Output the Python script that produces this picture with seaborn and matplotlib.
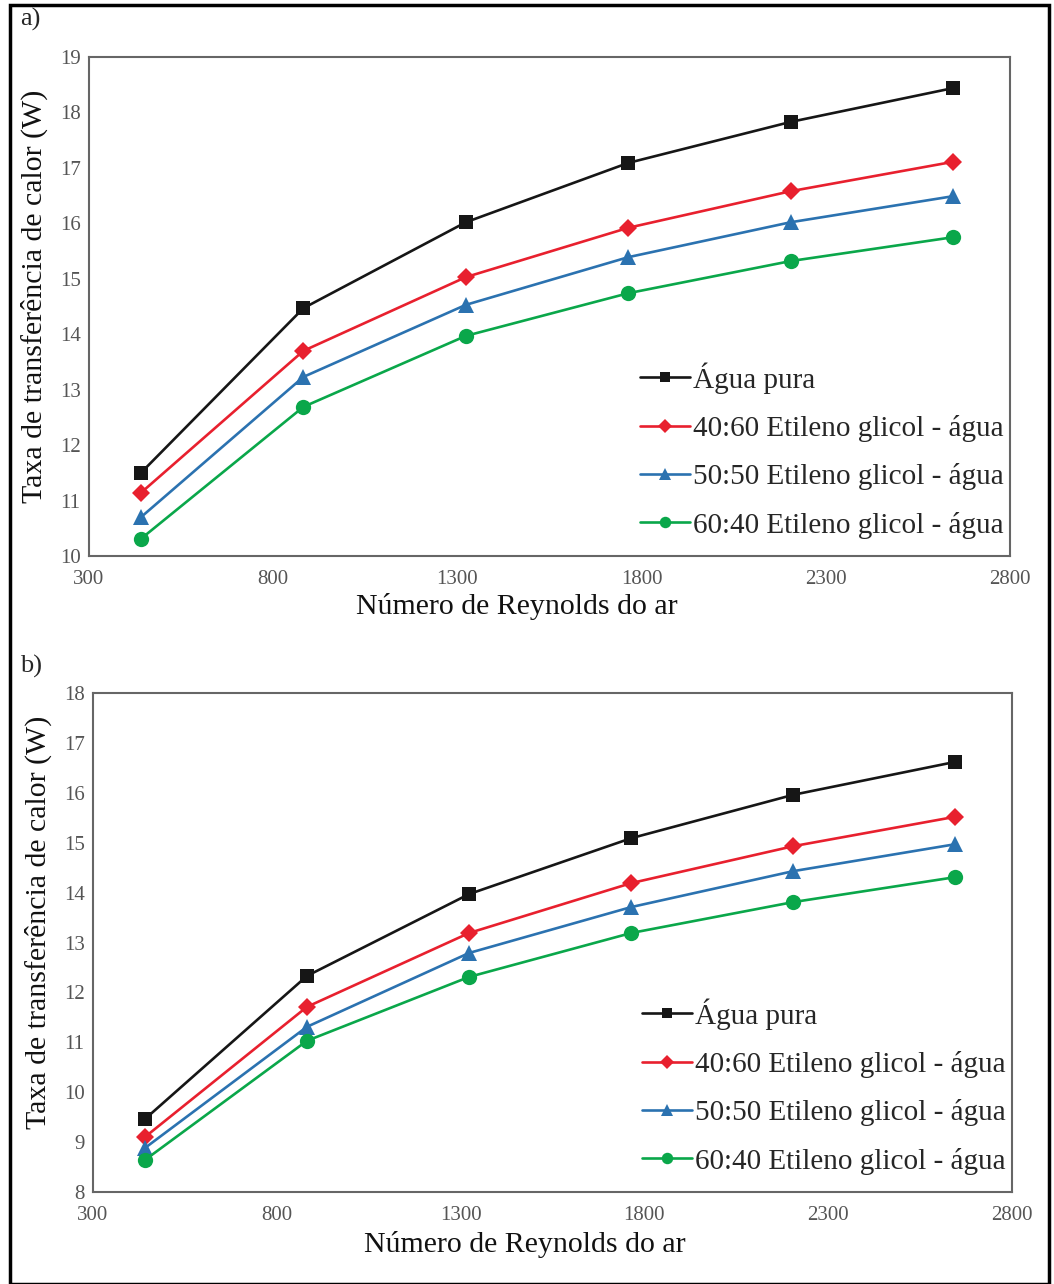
import pandas as pd
import matplotlib.pyplot as plt
import matplotlib.patches as patches
import seaborn as sns

# Reynolds numbers (air side)
reynolds = [441, 882, 1323, 1764, 2205, 2646]

series_names = ['Água pura',
                '40:60 Etileno glicol - água',
                '50:50 Etileno glicol - água',
                '60:40 Etileno glicol - água']

# panel a) heat transfer rate (W)
a_agua = [11.50, 14.47, 16.02, 17.09, 17.83, 18.44]
a_4060 = [11.14, 13.70, 15.03, 15.92, 16.58, 17.11]
a_5050 = [10.70, 13.23, 14.53, 15.39, 16.02, 16.49]
a_6040 = [10.31, 12.69, 13.97, 14.74, 15.32, 15.75]

# panel b) heat transfer rate (W)
b_agua = [9.46, 12.33, 13.97, 15.09, 15.96, 16.62]
b_4060 = [9.10, 11.71, 13.19, 14.19, 14.93, 15.52]
b_5050 = [8.88, 11.31, 12.79, 13.71, 14.43, 14.97]
b_6040 = [8.64, 11.03, 12.31, 13.19, 13.81, 14.31]

colors = {series_names[0]: '#161616', series_names[1]: '#e8202e',
          series_names[2]: '#2b72b0', series_names[3]: '#0aa74a'}
markers = {series_names[0]: 's', series_names[1]: 'D',
           series_names[2]: '^', series_names[3]: 'o'}
msizes = {'s': 10.5, 'D': 9.5, '^': 11, 'o': 11}


def to_long(cols):
    rows = []
    for name, vals in zip(series_names, cols):
        for re, q in zip(reynolds, vals):
            rows.append({'Re': re, 'Q': q, 'Serie': name})
    return pd.DataFrame(rows)


df_a = to_long([a_agua, a_4060, a_5050, a_6040])
df_b = to_long([b_agua, b_4060, b_5050, b_6040])

sns.set_style('white')
plt.rcParams['font.family'] = ['Liberation Serif', 'DejaVu Serif']

fig = plt.figure(figsize=(10.54, 12.84), dpi=100)
ax_a = fig.add_axes([89 / 1054, 1 - 556 / 1284, 921 / 1054, 499 / 1284])
ax_b = fig.add_axes([93 / 1054, 1 - 1192 / 1284, 919 / 1054, 499 / 1284])

# axes, y-limits, tag, tag y (px), ylabel coords, xlabel coords
panels = [(ax_a, df_a, (10, 19), 'a)', 19, (-0.059, 0.52), (0.465, -0.102)),
          (ax_b, df_b, (8, 18), 'b)', 666, (-0.060, 0.54), (0.47, -0.106))]

for ax, df, ylim, tag, ytag, ylc, xlc in panels:
    sns.lineplot(data=df, x='Re', y='Q', hue='Serie', style='Serie',
                 palette=colors, markers=markers, dashes=False,
                 linewidth=1.9, markersize=10, markeredgewidth=0, ax=ax)
    for line in ax.lines:
        m = line.get_marker()
        if m in msizes:
            line.set_markersize(msizes[m])
    ax.set_xlim(300, 2800)
    ax.set_ylim(*ylim)
    ax.set_xticks(range(300, 2801, 500))
    ax.set_yticks(range(ylim[0], ylim[1] + 1))
    ax.tick_params(direction='in', length=4, width=1, colors='#777777',
                   labelsize=15, labelcolor='#555555')
    ax.tick_params(axis='x', pad=10)
    ax.tick_params(axis='y', pad=6)
    for s in ax.spines.values():
        s.set_color('#666666')
        s.set_linewidth(1.5)
    ax.set_xlabel('Número de Reynolds do ar', fontsize=21.5, color='#111111')
    ax.set_ylabel('Taxa de transferência de calor (W)', fontsize=21.5, color='#111111')
    ax.xaxis.label.set_va('center')
    ax.yaxis.label.set_va('center')
    ax.yaxis.set_label_coords(*ylc)
    ax.xaxis.set_label_coords(*xlc)
    leg = ax.legend(loc='lower right', bbox_to_anchor=(0.993, 0.035), frameon=False,
                    fontsize=21, handlelength=1.7, handletextpad=0.1,
                    labelspacing=0.73, borderaxespad=0, borderpad=0,
                    markerscale=0.75)
    fig.text(20 / 1054, 1 - ytag / 1284, tag, fontsize=19, va='center', ha='left')

# outer frame around the whole figure
fig.patches.append(patches.Rectangle((10 / 1054, 0), 1039 / 1054, 1 - 5 / 1284,
                                     transform=fig.transFigure, fill=False,
                                     edgecolor='black', linewidth=2.5))

fig.savefig('out.png', dpi=100)
